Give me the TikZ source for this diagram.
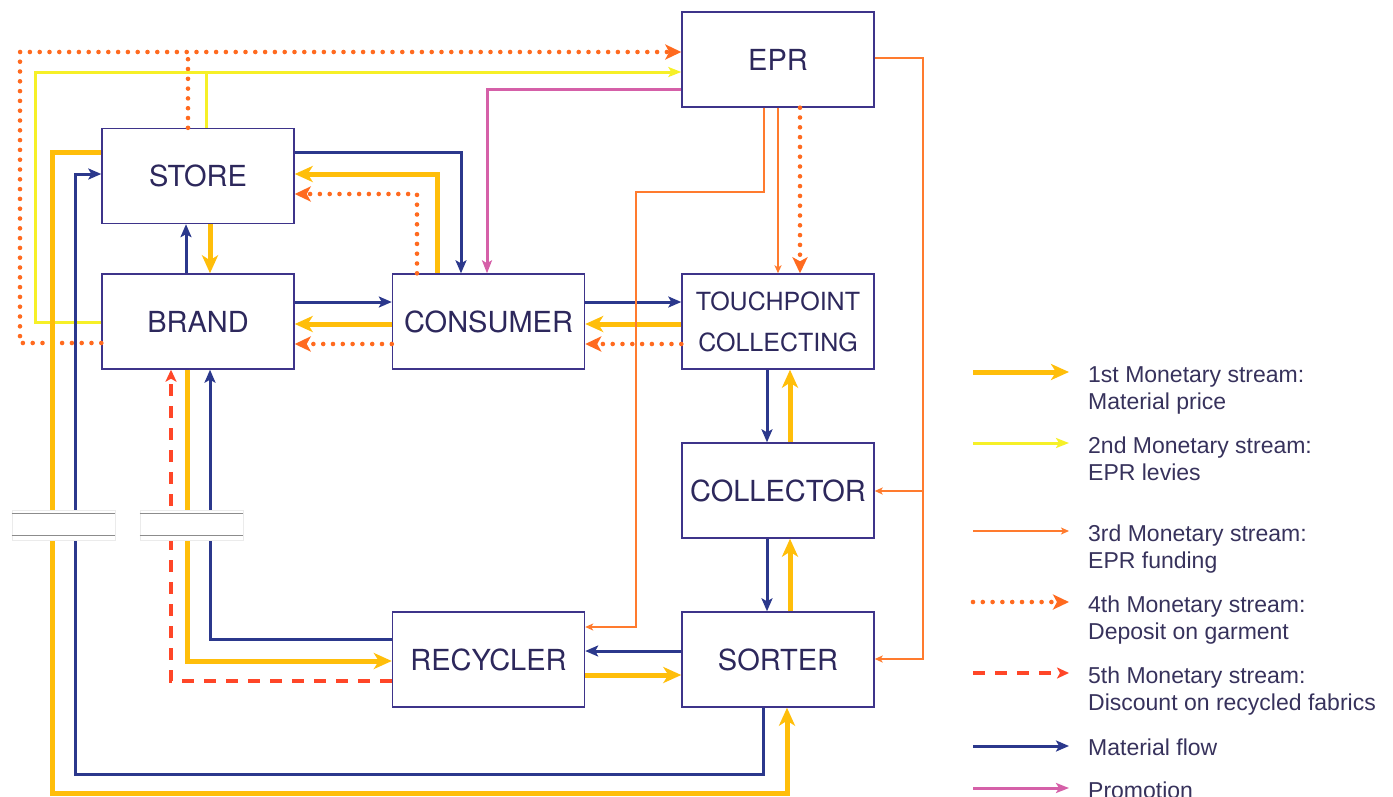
\documentclass[tikz,border=0pt]{standalone}
\usepackage{fontspec}
\usetikzlibrary{arrows.meta}
\newfontfamily\boxfont{TeX Gyre Heros}
\newfontfamily\legfont{Liberation Sans}

\definecolor{matc}{RGB}{43,56,140}
\definecolor{amb}{RGB}{255,190,10}
\definecolor{yel}{RGB}{246,240,40}
\definecolor{org}{RGB}{255,123,46}
\definecolor{dotc}{RGB}{255,106,31}
\definecolor{dsh}{RGB}{255,70,40}
\definecolor{pnk}{RGB}{213,96,168}
\definecolor{boxc}{RGB}{62,52,138}
\definecolor{txtc}{RGB}{45,40,92}
\definecolor{legtxt}{RGB}{55,50,92}

\tikzset{
  box/.style={draw=boxc, line width=1.4pt, fill=white, minimum width=192pt,
    minimum height=95pt, inner sep=0pt, text=txtc,
    font=\boxfont\fontsize{29}{34}\selectfont},
  matf/.style={draw=matc, line width=3pt,
    -{Stealth[length=13pt,width=11pt,inset=3pt]}},
  money1/.style={draw=amb, line width=5pt,
    -{Stealth[length=18pt,width=16pt,inset=5pt]}},
  money2/.style={draw=yel, line width=3pt,
    -{Stealth[length=13pt,width=10pt,inset=3pt]}},
  money3/.style={draw=org, line width=1.6pt,
    -{Stealth[length=8pt,width=7pt,inset=2pt]}},
  money4/.style={draw=dotc, line width=4.6pt, line cap=round,
    dash pattern=on 0pt off 9.8pt,
    -{Stealth[length=16pt,width=15pt,inset=4pt]}},
  money5/.style={draw=dsh, line width=3.2pt, dash pattern=on 12pt off 10pt,
    -{Stealth[length=12pt,width=11pt,inset=3pt]}},
  promo/.style={draw=pnk, line width=3pt,
    -{Stealth[length=13pt,width=10pt,inset=3pt]}},
  brk/.style={fill=white, draw=black!8, line width=0.6pt, minimum width=103pt,
    minimum height=30pt, inner sep=0pt},
  brkline/.style={draw=black!45, line width=1.3pt},
  legtext/.style={anchor=base west, align=left, inner sep=0pt, text=legtxt,
    font=\legfont\fontsize{23}{27}\selectfont},
}

\begin{document}
\begin{tikzpicture}[x=1pt,y=-1pt]
\useasboundingbox (0,0) rectangle (1393,796);
\clip (0,0) rectangle (1393,796);

% actors
\node[box] (epr) at (778,59.5) {EPR};
\node[box] (store) at (198,176) {STORE};
\node[box] (brand) at (198,321.5) {BRAND};
\node[box] (consumer) at (488.5,321.5) {CONSUMER};
\node[box, align=center, font=\boxfont\fontsize{25}{41}\selectfont] (touch) at (778,321.5) {TOUCHPOINT\\COLLECTING};
\node[box] (collector) at (778,490.5) {COLLECTOR};
\node[box] (sorter) at (778,659.5) {SORTER};
\node[box] (recycler) at (488.5,659.5) {RECYCLER};

% deposit and levies towards EPR (drawn first, underneath)
\draw[money4] (brand.west |- 0,343) -| (20,52) -- (epr.west |- 0,52);
\draw[money4,-] (store.north -| 188,0) -- (188,52);
\draw[money2] (brand.west |- 0,322) -| (35,72) -- (epr.west |- 0,72);
\draw[money2,-] (store.north -| 206,0) -- (206,72);

% long loop between store and sorter
\draw[money1] (store.west |- 0,152) -| (52,793) -| (sorter.south -| 787,0);
\draw[matf] (sorter.south -| 763,0) |- (75,774) |- (store.west |- 0,174);

% recycler and brand
\draw[matf] (recycler.west |- 0,639) -| (brand.south -| 210,0);
\draw[money1] (brand.south -| 187,0) |- (recycler.west |- 0,661);
\draw[money5] (recycler.west |- 0,681) -| (brand.south -| 171,0);

% store and brand
\draw[matf] (brand.north -| 186,0) -- (store.south -| 186,0);
\draw[money1] (store.south -| 210,0) -- (brand.north -| 210,0);

% store and consumer
\draw[matf] (store.east |- 0,152) -| (consumer.north -| 461,0);
\draw[money1] (consumer.north -| 437,0) |- (store.east |- 0,174);
\draw[money4] (consumer.north -| 417,0) |- (store.east |- 0,194);
\draw[promo] (epr.west |- 0,89) -| (consumer.north -| 487,0);

% brand and consumer
\draw[matf] (brand.east |- 0,302) -- (consumer.west |- 0,302);
\draw[money1] (consumer.west |- 0,324) -- (brand.east |- 0,324);
\draw[money4] (consumer.west |- 0,344) -- (brand.east |- 0,344);

% consumer and touchpoint
\draw[matf] (consumer.east |- 0,302) -- (touch.west |- 0,302);
\draw[money1] (touch.west |- 0,324) -- (consumer.east |- 0,324);
\draw[money4] (touch.west |- 0,344) -- (consumer.east |- 0,344);

% collection chain
\draw[matf] (touch.south -| 767,0) -- (collector.north -| 767,0);
\draw[money1] (collector.north -| 790,0) -- (touch.south -| 790,0);
\draw[matf] (collector.south -| 767,0) -- (sorter.north -| 767,0);
\draw[money1] (sorter.north -| 790,0) -- (collector.south -| 790,0);

% sorter and recycler
\draw[matf] (sorter.west |- 0,651) -- (recycler.east |- 0,651);
\draw[money1] (recycler.east |- 0,675) -- (sorter.west |- 0,675);

% EPR funding
\draw[money3] (epr.south -| 764,0) |- (636,192) |- (recycler.east |- 0,627);
\draw[money3] (epr.south -| 778,0) -- (touch.north -| 778,0);
\draw[money4] (epr.south -| 800,0) -- (touch.north -| 800,0);
\coordinate (fund) at (923,491);
\draw[money3] (epr.east |- 0,58) -| (923,659) -- (sorter.east |- 0,659);
\draw[money3] (fund) -- (collector.east |- 0,491);

% break marks on the long left runs
\node[brk] (brk1) at (63.5,525) {};
\node[brk] (brk2) at (191.5,525) {};
\foreach \b in {brk1,brk2}{
  \draw[brkline] ([yshift=-4pt]\b.north west) -- ([yshift=-4pt]\b.north east);
  \draw[brkline] ([yshift=5pt]\b.south west) -- ([yshift=5pt]\b.south east);
}

% legend
\foreach \n/\y in {a/372,b/443,c/531,d/602,e/673,f/746,g/788}{
  \coordinate (l\n s) at (973,\y);
  \coordinate (l\n e) at (1069,\y);
}
\draw[money1] (las) -- (lae);
\draw[money2] (lbs) -- (lbe);
\draw[money3] (lcs) -- (lce);
\draw[money4] (lds) -- (lde);
\draw[money5] (les) -- (lee);
\draw[matf] (lfs) -- (lfe);
\draw[promo] (lgs) -- (lge);

% two-line entries: the base anchor sits on the second line
\node[legtext] (t1) at (1088,409) {1st Monetary stream:\\Material price};
\node[legtext] (t2) at (1088,480) {2nd Monetary stream:\\EPR levies};
\node[legtext] (t3) at (1088,568) {3rd Monetary stream:\\EPR funding};
\node[legtext] (t4) at (1088,639) {4th Monetary stream:\\Deposit on garment};
\node[legtext] (t5) at (1088,710) {5th Monetary stream:\\Discount on recycled fabrics};
\node[legtext] (t6) at (1088,755) {Material flow};
\node[legtext] (t7) at (1088,798) {Promotion};
\end{tikzpicture}
\end{document}
